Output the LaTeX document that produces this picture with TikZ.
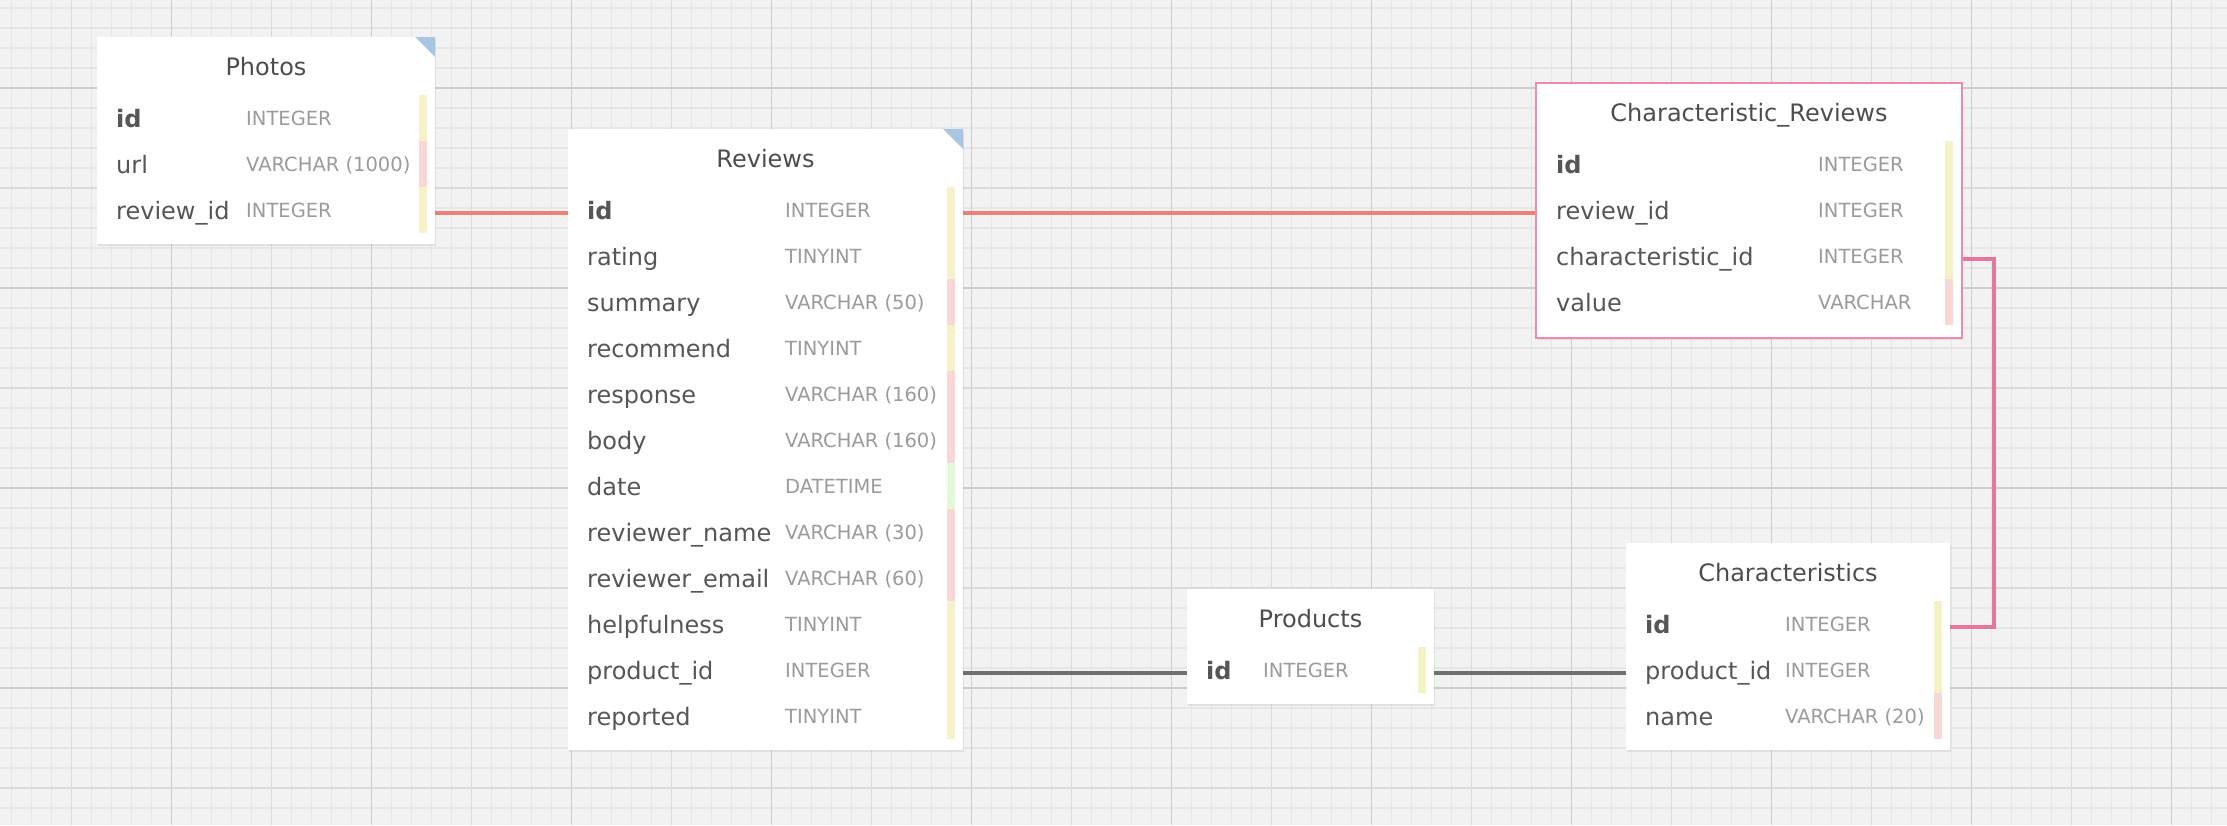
\documentclass[tikz,border=0pt]{standalone}
\usepackage{fontspec}
\setmainfont{DejaVu Sans}
\usetikzlibrary{shadows,calc}
\definecolor{bgc}{HTML}{F2F2F2}
\definecolor{gridminor}{HTML}{E6E6E6}
\definecolor{gridmid}{HTML}{DBDBDB}
\definecolor{gridmajor}{HTML}{CDCDCD}
\definecolor{titlec}{HTML}{4D4D4D}
\definecolor{namec}{HTML}{565656}
\definecolor{typec}{HTML}{9B9B9B}
\definecolor{yelbar}{HTML}{F4F2C6}
\definecolor{pinkbar}{HTML}{F8D7D6}
\definecolor{greenbar}{HTML}{E3F9DA}
\definecolor{cornerc}{HTML}{A8C6E4}
\definecolor{salmon}{HTML}{EC8273}
\definecolor{greyline}{HTML}{707070}
\definecolor{pinkline}{HTML}{E57798}
\definecolor{crborder}{HTML}{EC8CA8}
\pgfdeclarelayer{bg}
\pgfsetlayers{bg,main}
\tikzset{
  tbl/.style={rectangle, fill=white, inner sep=0pt, outer sep=0pt, anchor=north west,
    drop shadow={opacity=0.14, shadow xshift=1pt, shadow yshift=-2pt}},
  ttl/.style={anchor=base, inner sep=0pt, text=titlec, font=\fontsize{24}{28}\selectfont},
  fname/.style={anchor=west, inner sep=0pt, text height=12pt, text depth=0pt, text=namec,
    font=\fontsize{24}{28}\selectfont},
  ftype/.style={anchor=base west, inner sep=0pt, text=typec, font=\fontsize{19.5}{23}\selectfont},
  corner/.style={fill=cornerc},
  conn/.style={line width=3.5pt},
}
\begin{document}
\begin{tikzpicture}[x=1pt, y=-1pt]
\useasboundingbox (0,0) rectangle (2227,825);
% ---------- tables ----------
% Photos
\node[tbl, minimum width=338pt, minimum height=207pt] (photos) at (97,37) {};
\fill[corner] (photos.north east) -- ++(-20,0) -- ++(20,20) -- cycle;
\node[ttl] (photos-title) at ($(photos.north)+(0,38.5)$) {Photos};
\foreach \nm/\ty/\bc [count=\i from 0] in {\textbf{id}/INTEGER/yelbar, url/VARCHAR (1000)/pinkbar, review\_id/INTEGER/yelbar} {
  \node[fname] (ph-\i) at (116,121+46*\i) {\nm};
  \node[ftype] (ph-\i-type) at (246,125+46*\i) {\ty};
  \fill[fill=\bc] (419,95+46*\i) rectangle (427,141+46*\i);
}
% Reviews
\node[tbl, minimum width=395pt, minimum height=621pt] (reviews) at (568,129) {};
\fill[corner] (reviews.north east) -- ++(-20,0) -- ++(20,20) -- cycle;
\node[ttl] (reviews-title) at ($(reviews.north)+(0,38.5)$) {Reviews};
\foreach \nm/\ty/\bc [count=\i from 0] in {\textbf{id}/INTEGER/yelbar, rating/TINYINT/yelbar, summary/VARCHAR (50)/pinkbar, recommend/TINYINT/yelbar, response/VARCHAR (160)/pinkbar, body/VARCHAR (160)/pinkbar, date/DATETIME/greenbar, reviewer\_name/VARCHAR (30)/pinkbar, reviewer\_email/VARCHAR (60)/pinkbar, helpfulness/TINYINT/yelbar, product\_id/INTEGER/yelbar, reported/TINYINT/yelbar} {
  \node[fname] (rv-\i) at (587,213+46*\i) {\nm};
  \node[ftype] (rv-\i-type) at (785,217+46*\i) {\ty};
  \fill[fill=\bc] (947,187+46*\i) rectangle (955,233+46*\i);
}
% Characteristic_Reviews
\node[tbl, draw=crborder, line width=2pt, minimum width=426pt, minimum height=255pt] (charrev) at (1536,83) {};
\node[ttl] (charrev-title) at ($(charrev.north)+(0,38.5)$) {Characteristic\_Reviews};
\foreach \nm/\ty/\bc [count=\i from 0] in {\textbf{id}/INTEGER/yelbar, review\_id/INTEGER/yelbar, characteristic\_id/INTEGER/yelbar, value/VARCHAR/pinkbar} {
  \node[fname] (cr-\i) at (1556,167+46*\i) {\nm};
  \node[ftype] (cr-\i-type) at (1818,171+46*\i) {\ty};
  \fill[fill=\bc] (1945,141+46*\i) rectangle (1953,187+46*\i);
}
% Products
\node[tbl, minimum width=247pt, minimum height=115pt] (products) at (1187,589) {};
\node[ttl] (products-title) at ($(products.north)+(0,38.5)$) {Products};
\node[fname] (pr-0) at (1206,673) {\textbf{id}};
\node[ftype] (pr-0-type) at (1263,677) {INTEGER};
\fill[fill=yelbar] (1418,647) rectangle (1426,693);
% Characteristics
\node[tbl, minimum width=324pt, minimum height=207pt] (chars) at (1626,543) {};
\node[ttl] (chars-title) at ($(chars.north)+(0,38.5)$) {Characteristics};
\foreach \nm/\ty/\bc [count=\i from 0] in {\textbf{id}/INTEGER/yelbar, product\_id/INTEGER/yelbar, name/VARCHAR (20)/pinkbar} {
  \node[fname] (ch-\i) at (1645,627+46*\i) {\nm};
  \node[ftype] (ch-\i-type) at (1785,631+46*\i) {\ty};
  \fill[fill=\bc] (1934,601+46*\i) rectangle (1942,647+46*\i);
}
% ---------- background: grid and connectors ----------
\begin{pgfonlayer}{bg}
\fill[bgc] (0,0) rectangle (2227,825);
\foreach \x in {11.5,31.5,...,2227} \draw[gridminor, line width=1.3pt] (\x,0) -- (\x,825);
\foreach \y in {8,28,...,825} \draw[gridminor, line width=1.3pt] (0,\y) -- (2227,\y);
\foreach \x in {71.5,271.5,...,2227} \draw[gridmid, line width=1.5pt] (\x,0) -- (\x,825);
\foreach \y in {188,388,...,825} \draw[gridmid, line width=1.5pt] (0,\y) -- (2227,\y);
\foreach \x in {171.5,371.5,...,2227} \draw[gridmajor, line width=1.8pt] (\x,0) -- (\x,825);
\foreach \y in {88,288,...,825} \draw[gridmajor, line width=1.8pt] (0,\y) -- (2227,\y);
% connectors
\draw[conn, salmon] (photos.east |- ph-2.west) -- (reviews.west |- ph-2.west);
\draw[conn, salmon] (reviews.east |- rv-0.west) -- (charrev.west |- cr-1.west);
\draw[conn, greyline] (reviews.east |- rv-10.west) -- (products.west |- pr-0.west);
\draw[conn, greyline] (products.east |- pr-0.west) -- (chars.west |- ch-1.west);
\draw[conn, pinkline] (charrev.east |- cr-2.west) -- ++(32,0) |- (chars.east |- ch-0.west);
\end{pgfonlayer}
\end{tikzpicture}
\end{document}
